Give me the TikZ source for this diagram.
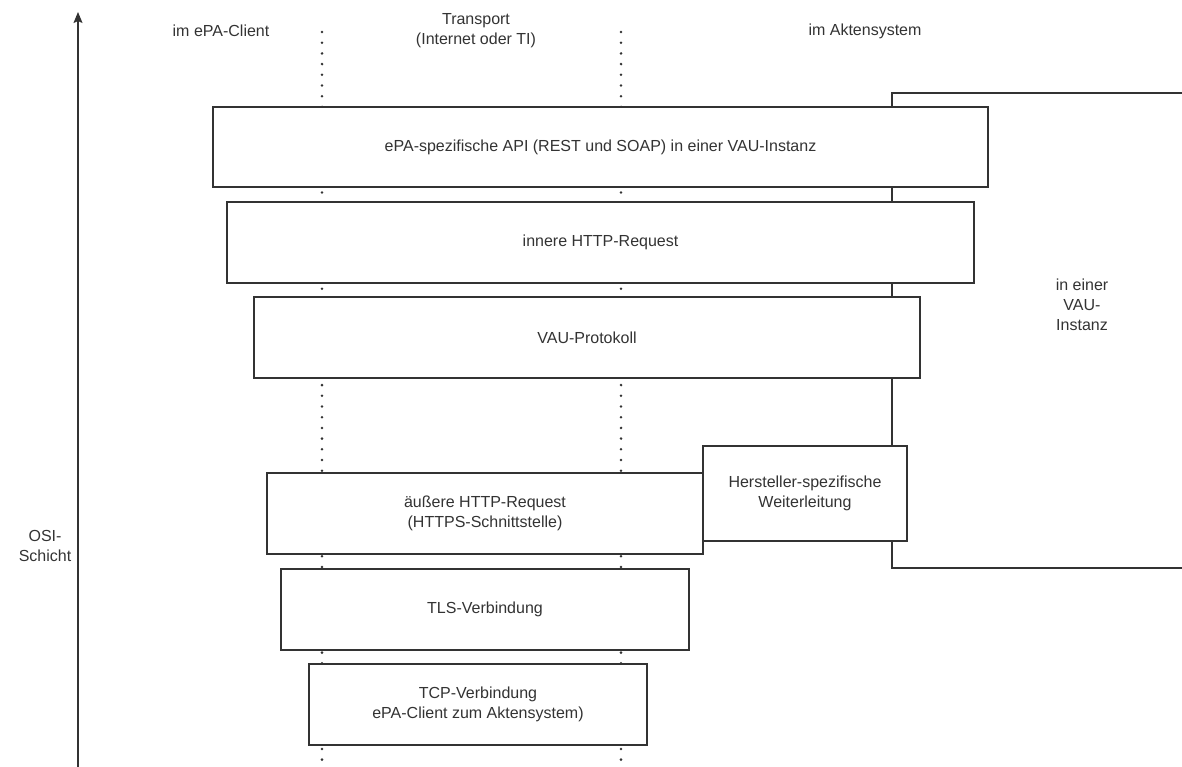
\documentclass[tikz,border=0pt]{standalone}
\usepackage{fontspec}
\setmainfont{Liberation Sans}
\usetikzlibrary{arrows.meta}
\definecolor{ln}{HTML}{333333}
\definecolor{tx}{HTML}{333333}
\begin{document}
\begin{tikzpicture}[x=1pt,y=-1pt,
  layer/.style={draw=ln,line width=1.3pt,fill=white,text=tx,align=center,font=\fontsize{16}{20}\selectfont},
  lbl/.style={text=tx,align=center,font=\fontsize{16}{20}\selectfont},
  dotline/.style={draw=ln,line width=2.8pt,line cap=round,dash pattern=on 0pt off 10.7pt}]
\useasboundingbox (0,0) rectangle (1182,766);
% VAU instance frame (extends beyond right edge)
\draw[ln,line width=1.3pt] (1190,93) -- (892,93) -- (892,568) -- (1190,568);
\node[lbl] (vau) at (1082,305) {in einer\\VAU-\\Instanz};
% dotted separators
\coordinate (d1t) at (322,32); \coordinate (d1b) at (322,766);
\coordinate (d2t) at (621,32); \coordinate (d2b) at (621,766);
\draw[dotline] (d1t) -- (d1b);
\draw[dotline] (d2t) -- (d2b);
% boxes
\node[layer,minimum width=775pt,minimum height=80pt] (api) at (600.5,147) {ePA-spezifische API (REST und SOAP) in einer VAU-Instanz};
\node[layer,minimum width=747pt,minimum height=81pt] (inner) at (600.5,242.5) {innere HTTP-Request};
\node[layer,minimum width=666pt,minimum height=81pt] (vaup) at (587,337.5) {VAU-Protokoll};
\node[layer,minimum width=204pt,minimum height=95pt] (herst) at (805,493.5) {Hersteller-spezifische\\Weiterleitung};
\node[layer,minimum width=436pt,minimum height=81pt] (outer) at (485,513.5) {äußere HTTP-Request\\(HTTPS-Schnittstelle)};
\node[layer,minimum width=408pt,minimum height=81pt] (tls) at (485,609.5) {TLS-Verbindung};
\node[layer,minimum width=338pt,minimum height=81pt] (tcp) at (478,704.5) {TCP-Verbindung\\ePA-Client zum Aktensystem)};
% axis
\coordinate (ab) at (78,770);
\coordinate (at) at (78,12);
\draw[ln,line width=1.3pt,-{Stealth[length=11pt,width=9pt,inset=2pt]}] (ab) -- (at);
\node[lbl] (osi) at (45,546) {OSI-\\Schicht};
% column headers
\node[lbl] (h1) at (221,31) {im ePA-Client};
\node[lbl] (h2) at (476,31) {Transport\\(Internet oder TI)};
\node[lbl] (h3) at (865,31) {im Aktensystem};
\end{tikzpicture}
\end{document}
